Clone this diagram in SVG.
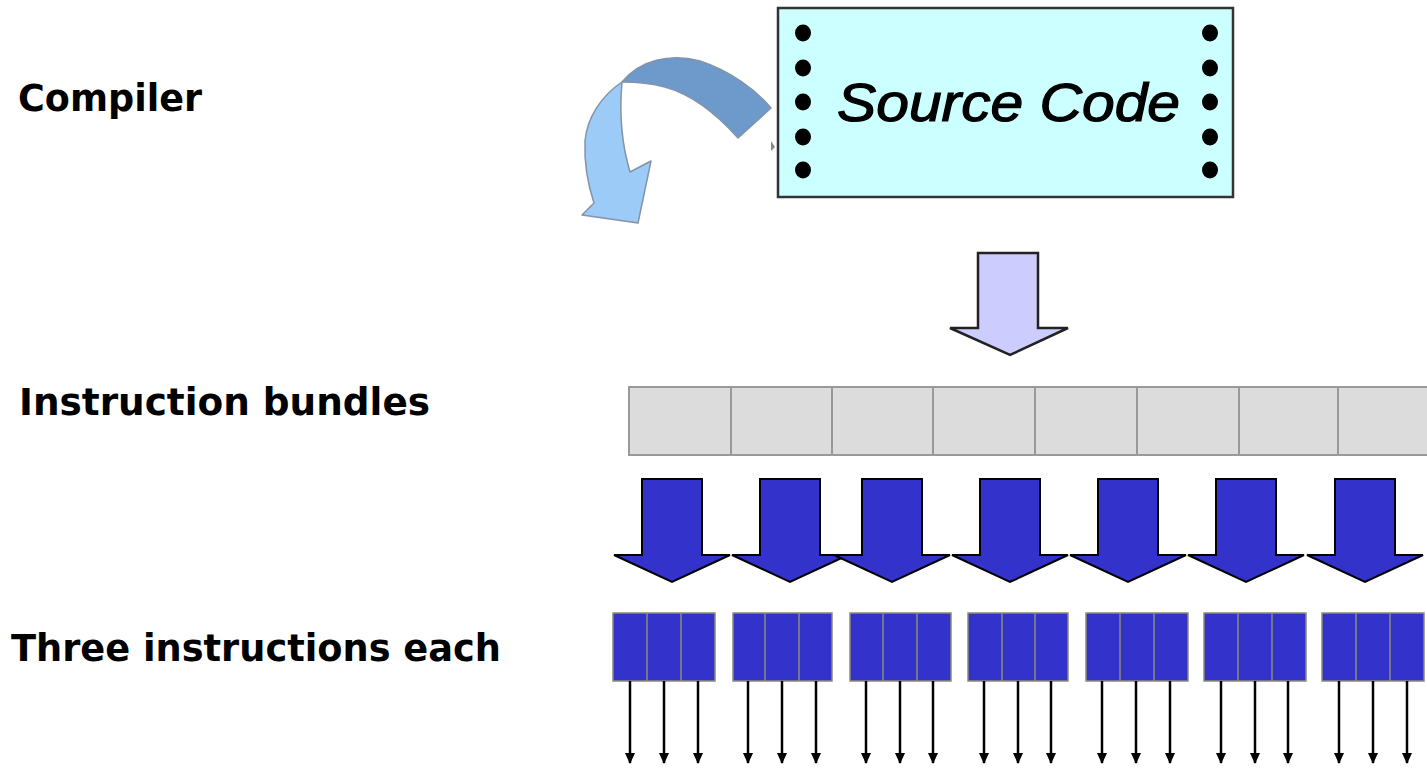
<svg xmlns="http://www.w3.org/2000/svg" width="1427" height="769" viewBox="0 0 1427 769">
  <style>
    .label { font-family: "DejaVu Sans", Verdana, sans-serif; font-weight: bold; font-size: 37px; fill: #000; }
    .src { font-family: "Liberation Sans", Arial, sans-serif; font-style: italic; font-size: 53px; fill: #000; stroke: #000; stroke-width: 1.2px; }
    .dot { fill: #000; }
    .bundle { fill: #dcdcdc; stroke: #999; stroke-width: 2; }
    .cell { stroke: #999; stroke-width: 2; }
    .fat { fill: #3333cc; stroke: #000; stroke-width: 2; stroke-linejoin: miter; }
    .instr { fill: #3333cc; stroke: #8c8c78; stroke-width: 1.5; }
    .div { stroke: #8c8c78; stroke-width: 1.5; }
    .out { stroke: #000; stroke-width: 2.5; marker-end: url(#head); }
  </style>
  <defs>
    <marker id="head" markerUnits="userSpaceOnUse" markerWidth="11" markerHeight="10" viewBox="0 0 11 10" refX="10" refY="5" orient="auto">
      <path d="M0,0 L11,5 L0,10 Z" fill="#000"/>
    </marker>
  </defs>

  <rect width="1427" height="769" fill="#fff"/>

  <!-- side labels -->
  <g id="label-compiler">
    <text class="label" x="18" y="111" textLength="184" lengthAdjust="spacingAndGlyphs">Compiler</text>
  </g>
  <g id="label-bundles">
    <text class="label" x="19" y="415" textLength="411" lengthAdjust="spacingAndGlyphs">Instruction bundles</text>
  </g>
  <g id="label-three">
    <text class="label" x="11" y="661" textLength="490" lengthAdjust="spacingAndGlyphs">Three instructions each</text>
  </g>

  <!-- source code sheet -->
  <g id="source-code">
    <rect x="778" y="8" width="455" height="189" fill="#ccffff" stroke="#333" stroke-width="2.5"/>
    <g class="dot">
      <ellipse cx="803" cy="33" rx="8" ry="8.5"/>
      <ellipse cx="803" cy="68" rx="8" ry="8.5"/>
      <ellipse cx="803" cy="102" rx="8" ry="8.5"/>
      <ellipse cx="803" cy="137" rx="8" ry="8.5"/>
      <ellipse cx="803" cy="170" rx="8" ry="8.5"/>
      <ellipse cx="1210" cy="33" rx="8" ry="8.5"/>
      <ellipse cx="1210" cy="68" rx="8" ry="8.5"/>
      <ellipse cx="1210" cy="102" rx="8" ry="8.5"/>
      <ellipse cx="1210" cy="137" rx="8" ry="8.5"/>
      <ellipse cx="1210" cy="170" rx="8" ry="8.5"/>
    </g>
    <text class="src" x="837" y="121" textLength="343" lengthAdjust="spacingAndGlyphs">Source Code</text>
  </g>

  <!-- compiler: curved arrow -->
  <g id="compiler-arrow" stroke="#8293aa" stroke-width="1.5" stroke-linejoin="round">
    <path d="M622,82 C640,60 670,53 700,61 C730,71 755,89 771,108 L738,138 C715,112 690,94 665,87 C650,83 635,82 622,82 Z" fill="#6e9acb"/>
    <path d="M622,82 C601,96 587,118 585,141 C584,166 589,188 594,203 L582,215 L638,223 L651,161 L630,172 C622,145 619,115 622,82 Z" fill="#9ccbf7"/>
    <polygon points="771,141 775,147 771,151" fill="#888" stroke="none"/>
  </g>

  <!-- instruction bundle strip -->
  <g id="bundles">
    <rect class="bundle" x="629" y="387" width="810" height="68"/>
    <line class="cell" x1="731" y1="387" x2="731" y2="455"/>
    <line class="cell" x1="832" y1="387" x2="832" y2="455"/>
    <line class="cell" x1="933" y1="387" x2="933" y2="455"/>
    <line class="cell" x1="1035" y1="387" x2="1035" y2="455"/>
    <line class="cell" x1="1137" y1="387" x2="1137" y2="455"/>
    <line class="cell" x1="1239" y1="387" x2="1239" y2="455"/>
    <line class="cell" x1="1338" y1="387" x2="1338" y2="455"/>
  </g>

  <!-- three-instruction groups -->
  <g id="group-1">
    <rect class="instr" x="613" y="613" width="102" height="68"/>
    <line class="div" x1="647" y1="613" x2="647" y2="681"/>
    <line class="div" x1="681" y1="613" x2="681" y2="681"/>
  </g>
  <g id="group-2">
    <rect class="instr" x="733" y="613" width="99" height="68"/>
    <line class="div" x1="765" y1="613" x2="765" y2="681"/>
    <line class="div" x1="799" y1="613" x2="799" y2="681"/>
  </g>
  <g id="group-3">
    <rect class="instr" x="850" y="613" width="101" height="68"/>
    <line class="div" x1="883" y1="613" x2="883" y2="681"/>
    <line class="div" x1="917" y1="613" x2="917" y2="681"/>
  </g>
  <g id="group-4">
    <rect class="instr" x="968" y="613" width="100" height="68"/>
    <line class="div" x1="1002" y1="613" x2="1002" y2="681"/>
    <line class="div" x1="1035" y1="613" x2="1035" y2="681"/>
  </g>
  <g id="group-5">
    <rect class="instr" x="1086" y="613" width="102" height="68"/>
    <line class="div" x1="1120" y1="613" x2="1120" y2="681"/>
    <line class="div" x1="1154" y1="613" x2="1154" y2="681"/>
  </g>
  <g id="group-6">
    <rect class="instr" x="1204" y="613" width="102" height="68"/>
    <line class="div" x1="1238" y1="613" x2="1238" y2="681"/>
    <line class="div" x1="1272" y1="613" x2="1272" y2="681"/>
  </g>
  <g id="group-7">
    <rect class="instr" x="1322" y="613" width="102" height="68"/>
    <line class="div" x1="1356" y1="613" x2="1356" y2="681"/>
    <line class="div" x1="1390" y1="613" x2="1390" y2="681"/>
  </g>

  <!-- connectors -->
  <g id="connectors">
    <!-- source code to bundles -->
    <polygon points="978,253 1038,253 1038,328 1068,328 1010,355 950,328 978,328" fill="#ccccff" stroke="#222" stroke-width="2.5" stroke-linejoin="miter"/>

    <!-- bundles to instruction groups -->
    <polygon class="fat" points="642,479 702,479 702,555 730,555 672,582 614,555 642,555"/>
    <polygon class="fat" points="760,479 820,479 820,555 848,555 790,582 732,555 760,555"/>
    <polygon class="fat" points="862,479 922,479 922,555 950,555 892,582 834,555 862,555"/>
    <polygon class="fat" points="980,479 1040,479 1040,555 1068,555 1010,582 952,555 980,555"/>
    <polygon class="fat" points="1098,479 1158,479 1158,555 1186,555 1128,582 1070,555 1098,555"/>
    <polygon class="fat" points="1216,479 1276,479 1276,555 1304,555 1246,582 1188,555 1216,555"/>
    <polygon class="fat" points="1335,479 1395,479 1395,555 1423,555 1365,582 1307,555 1335,555"/>

    <!-- instruction outputs -->
    <line class="out" x1="630" y1="681" x2="630" y2="763"/>
    <line class="out" x1="664" y1="681" x2="664" y2="763"/>
    <line class="out" x1="698" y1="681" x2="698" y2="763"/>
    <line class="out" x1="748" y1="681" x2="748" y2="763"/>
    <line class="out" x1="782" y1="681" x2="782" y2="763"/>
    <line class="out" x1="816" y1="681" x2="816" y2="763"/>
    <line class="out" x1="866" y1="681" x2="866" y2="763"/>
    <line class="out" x1="900" y1="681" x2="900" y2="763"/>
    <line class="out" x1="933" y1="681" x2="933" y2="763"/>
    <line class="out" x1="984" y1="681" x2="984" y2="763"/>
    <line class="out" x1="1018" y1="681" x2="1018" y2="763"/>
    <line class="out" x1="1051" y1="681" x2="1051" y2="763"/>
    <line class="out" x1="1102" y1="681" x2="1102" y2="763"/>
    <line class="out" x1="1136" y1="681" x2="1136" y2="763"/>
    <line class="out" x1="1170" y1="681" x2="1170" y2="763"/>
    <line class="out" x1="1221" y1="681" x2="1221" y2="763"/>
    <line class="out" x1="1255" y1="681" x2="1255" y2="763"/>
    <line class="out" x1="1288" y1="681" x2="1288" y2="763"/>
    <line class="out" x1="1339" y1="681" x2="1339" y2="763"/>
    <line class="out" x1="1373" y1="681" x2="1373" y2="763"/>
    <line class="out" x1="1407" y1="681" x2="1407" y2="763"/>
  </g>
</svg>
